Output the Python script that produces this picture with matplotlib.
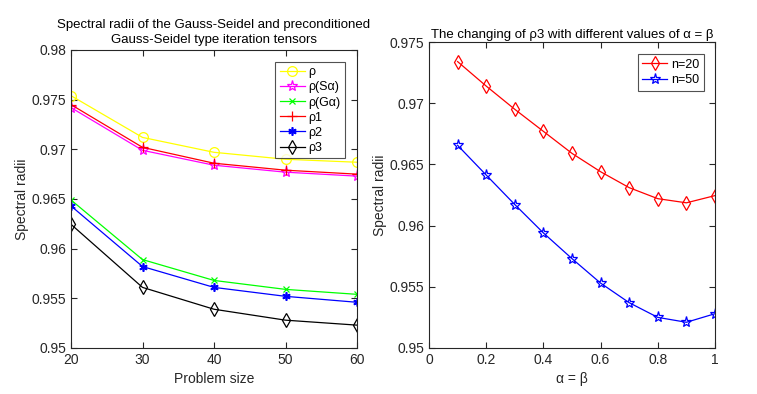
import matplotlib.pyplot as plt
import numpy as np

plt.rcParams['font.family'] = ['Liberation Sans', 'DejaVu Sans']
plt.rcParams['font.size'] = 10

# left panel data
sizes = [20, 30, 40, 50, 60]
rho = [0.9754, 0.9712, 0.9697, 0.9690, 0.9687]
rho_s = [0.9742, 0.9699, 0.9684, 0.9677, 0.9673]
rho_g = [0.9649, 0.9589, 0.9568, 0.9559, 0.9554]
rho1 = [0.9745, 0.9702, 0.9686, 0.9679, 0.9675]
rho2 = [0.9643, 0.9582, 0.9561, 0.9552, 0.9546]
rho3 = [0.96245, 0.9561, 0.9539, 0.9528, 0.9523]

# right panel data
alphas = [0.1, 0.2, 0.3, 0.4, 0.5, 0.6, 0.7, 0.8, 0.9, 1.0]
n20 = [0.9734, 0.9714, 0.9695, 0.9677, 0.9659, 0.9644, 0.9631, 0.9622, 0.96186, 0.96245]
n50 = [0.96656, 0.96413, 0.96172, 0.9594, 0.9573, 0.9553, 0.9537, 0.9525, 0.9521, 0.9528]

axc = '#262626'

fig = plt.figure(figsize=(7.57, 3.94), dpi=100)
ax1 = fig.add_axes([0.0938, 0.1168, 0.3778, 0.7563])
ax2 = fig.add_axes([0.5667, 0.1168, 0.3778, 0.7766])


def style(ax):
    for s in ax.spines.values():
        s.set_color(axc)
        s.set_linewidth(0.8)
    ax.tick_params(direction='in', top=True, right=True, colors=axc,
                   length=4, labelsize=10)


lw = 0.9
mew = 0.9
asterisk = (6, 2, 0)
ax1.plot(sizes, rho, color='yellow', marker='o', mfc='none', lw=lw, ms=7, mew=mew, label='ρ')
ax1.plot(sizes, rho_s, color='magenta', marker='*', mfc='none', lw=lw, ms=8, mew=mew, label='ρ(Sα)')
ax1.plot(sizes, rho_g, color='lime', marker='x', lw=lw, ms=4.5, mew=mew, label='ρ(Gα)')
ax1.plot(sizes, rho1, color='red', marker='+', lw=lw, ms=7, mew=mew, label='ρ1')
ax1.plot(sizes, rho2, color='blue', marker=asterisk, lw=lw, ms=6, mew=mew + 0.3, label='ρ2')
ax1.plot(sizes, rho3, color='black', marker='d', mfc='none', lw=lw, ms=7, mew=mew, label='ρ3')
ax1.set_xlim(20, 60)
ax1.set_ylim(0.95, 0.98)
ax1.set_xticks(sizes)
yt = np.round(np.arange(0.95, 0.9801, 0.005), 3)
ax1.set_yticks(yt)
ax1.set_yticklabels([f'{v:g}' for v in yt])
ax1.set_xlabel('Problem size', color=axc)
ax1.set_ylabel('Spectral radii', color=axc, labelpad=2)
ax1.set_title('Spectral radii of the Gauss-Seidel and preconditioned\nGauss-Seidel type iteration tensors',
              fontsize=9.5, color='black', pad=5, linespacing=1.35)
style(ax1)
leg = ax1.legend(loc='upper right', bbox_to_anchor=(0.958, 0.96), fancybox=False,
                 edgecolor=axc, handlelength=2.0, handletextpad=0.3,
                 borderpad=0.35, labelspacing=0.25, fontsize=9, borderaxespad=0)
leg.get_frame().set_linewidth(0.8)

ax2.plot(alphas, n20, color='red', marker='d', mfc='none', lw=lw, ms=7, mew=mew, label='n=20')
ax2.plot(alphas, n50, color='blue', marker='*', mfc='none', lw=lw, ms=8, mew=mew, label='n=50')
ax2.set_xlim(0, 1)
ax2.set_ylim(0.95, 0.975)
xt = np.round(np.arange(0, 1.01, 0.2), 1)
ax2.set_xticks(xt)
ax2.set_xticklabels([f'{v:g}' for v in xt])
yt2 = np.round(np.arange(0.95, 0.9751, 0.005), 3)
ax2.set_yticks(yt2)
ax2.set_yticklabels([f'{v:g}' for v in yt2])
ax2.set_xlabel('α = β', color=axc)
ax2.set_ylabel('Spectral radii', color=axc, labelpad=2)
ax2.set_title('The changing of ρ3 with different values of α = β', fontsize=9.5,
              color='black', pad=3)
style(ax2)
leg2 = ax2.legend(loc='upper right', bbox_to_anchor=(0.96, 0.96), fancybox=False,
                  edgecolor=axc, handlelength=2.0, handletextpad=0.3,
                  borderpad=0.35, labelspacing=0.3, fontsize=9, borderaxespad=0)
leg2.get_frame().set_linewidth(0.8)

fig.savefig('out.png', dpi=100)
